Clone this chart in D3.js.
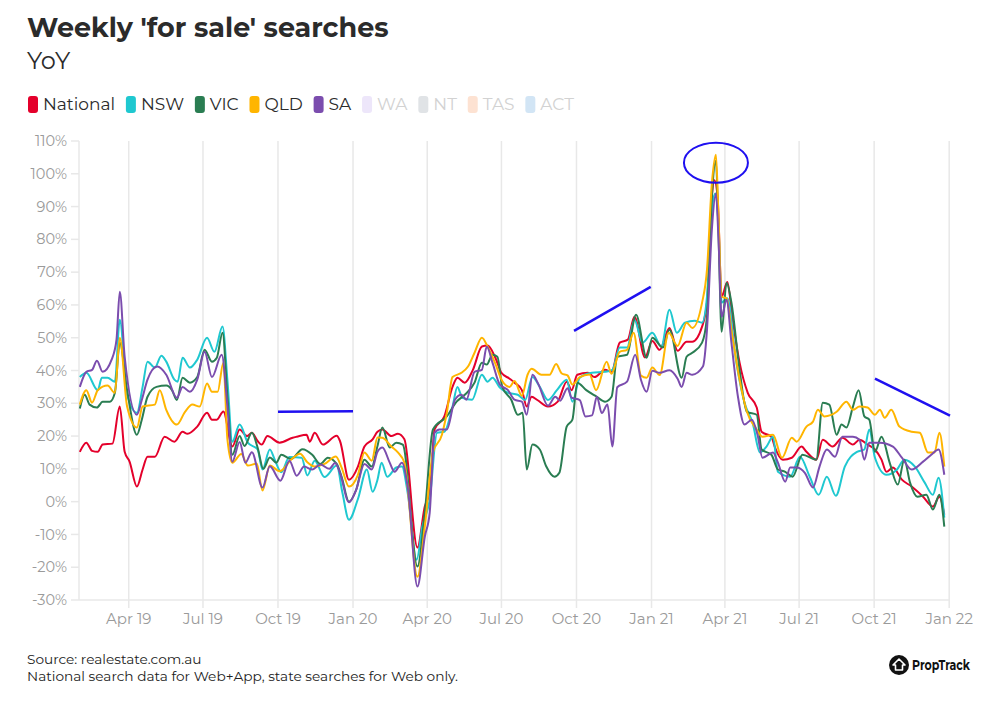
<!DOCTYPE html>
<html>
<head>
<meta charset="utf-8">
<script src="https://cdn.jsdelivr.net/npm/d3@7"></script>
<style>
    body { margin: 0; background: #fff; }
    svg text { font-family: Montserrat, Inter, "Noto Sans", sans-serif; }
</style>
</head>
<body>
<div id="chart"></div>
<script>
// Weekly 'for sale' searches, YoY % change
// Values, [week, % change]

const national = [
    ["2019-01-31",15.2],["2019-02-08",18],["2019-02-15",15.5],["2019-02-22",15.2],["2019-02-28",17.4],["2019-03-12",17.7],
    ["2019-03-21",29],["2019-03-27",15.2],["2019-04-02",12.2],["2019-04-11",4.6],["2019-04-18",9.8],["2019-04-24",13.7],
    ["2019-05-03",13.7],["2019-05-15",19.8],["2019-05-27",18.3],["2019-06-06",21.3],["2019-06-12",20.7],["2019-06-24",22.9],
    ["2019-07-06",27.1],["2019-07-12",25],["2019-07-18",25],["2019-07-26",27.5],["2019-08-06",16.8],["2019-08-15",22],
    ["2019-08-24",20],["2019-08-30",21],["2019-09-06",18.5],["2019-09-11",17.4],["2019-09-18",20],["2019-10-03",18],
    ["2019-10-19",19.5],["2019-10-24",19.8],["2019-11-05",20.4],["2019-11-09",18.3],["2019-11-15",21],["2019-11-25",17.4],
    ["2019-12-12",20.1],["2019-12-16",18.5],["2019-12-27",6.7],["2020-01-07",10.7],["2020-01-15",16.8],["2020-01-25",19],
    ["2020-01-31",21.3],["2020-02-06",22],["2020-02-17",20],["2020-02-25",20.7],["2020-03-04",19],["2020-03-20",-14],
    ["2020-03-29",-1.5],["2020-04-04",2.7],["2020-04-10",22],["2020-04-22",26],["2020-05-02",35],["2020-05-08",37.8],
    ["2020-05-17",36.3],["2020-05-27",40.2],["2020-06-07",47.3],["2020-06-14",47.6],["2020-06-23",44.2],["2020-07-01",39.3],
    ["2020-07-11",37.5],["2020-07-17",36.3],["2020-07-26",34],["2020-08-01",29],["2020-08-07",32],["2020-08-14",31],
    ["2020-08-27",29],["2020-09-08",30.5],["2020-09-19",36.6],["2020-09-25",34],["2020-10-02",38.7],["2020-10-15",39.3],
    ["2020-10-23",38],["2020-11-05",40.2],["2020-11-13",39.6],["2020-11-23",48.5],["2020-12-03",49.4],["2020-12-11",56.4],
    ["2020-12-24",44],["2021-01-02",49],["2021-01-11",46.3],["2021-01-23",53],["2021-02-02",46],["2021-02-13",48.8],
    ["2021-02-20",48.8],["2021-03-04",53.4],["2021-03-10",60.7],["2021-03-16",93],["2021-03-19",98],["2021-03-23",93],
    ["2021-03-28",62.5],["2021-04-04",67],["2021-04-10",56.4],["2021-04-19",42.4],["2021-04-29",33.2],["2021-05-10",28.7],
    ["2021-05-16",21.3],["2021-05-28",19.8],["2021-06-01",16.8],["2021-06-11",12.8],["2021-06-22",13.4],["2021-07-04",16.8],
    ["2021-07-10",15.2],["2021-07-22",12.8],["2021-07-30",18.9],["2021-08-11",16.8],["2021-08-23",19.5],["2021-09-05",17.4],
    ["2021-09-13",18.9],["2021-09-23",17.4],["2021-10-02",15.9],["2021-10-10",12.8],["2021-10-16",9.1],["2021-10-24",10.4],
    ["2021-11-04",6.7],["2021-11-16",4.6],["2021-11-30",1.5],["2021-12-12",-1.5],["2021-12-20",1.5],["2021-12-26",-4]
];

const nsw = [
    ["2019-01-31",38],["2019-02-08",39.3],["2019-02-22",34],["2019-02-27",37.8],["2019-03-06",37.8],["2019-03-15",36.6],
    ["2019-03-21",55.5],["2019-03-30",32.6],["2019-04-11",27.1],["2019-04-18",35],["2019-04-24",42.7],["2019-05-03",40.9],
    ["2019-05-11",44.5],["2019-05-17",42.7],["2019-05-27",37.2],["2019-05-31",36.6],["2019-06-06",43.9],["2019-06-15",40.9],
    ["2019-06-24",43.3],["2019-07-06",50],["2019-07-15",45.7],["2019-07-25",53.4],["2019-07-31",37],["2019-08-06",18.3],
    ["2019-08-15",23.5],["2019-08-25",18],["2019-09-06",15.9],["2019-09-12",9.8],["2019-09-21",15.9],["2019-09-27",12.8],
    ["2019-10-05",9],["2019-10-15",13.6],["2019-10-30",13.4],["2019-11-06",8],["2019-11-15",12.5],["2019-11-27",7.5],
    ["2019-12-12",11],["2019-12-19",2.7],["2019-12-27",-5.5],["2020-01-07",0.8],["2020-01-18",9.8],["2020-01-25",3],
    ["2020-01-31",6.7],["2020-02-05",11.9],["2020-02-12",7.6],["2020-02-23",10.4],["2020-03-01",10.7],["2020-03-08",2.7],
    ["2020-03-19",-17.7],["2020-03-26",-7.6],["2020-04-04",0.6],["2020-04-13",21],["2020-04-22",21.3],["2020-05-02",29],
    ["2020-05-08",35],["2020-05-14",31.7],["2020-05-26",31.1],["2020-06-07",38.7],["2020-06-14",36.6],["2020-06-20",37.8],
    ["2020-06-29",34.8],["2020-07-09",33.2],["2020-07-21",32.6],["2020-07-30",31],["2020-08-08",38],["2020-08-17",35],
    ["2020-08-27",31],["2020-09-07",34],["2020-09-19",37.2],["2020-09-26",30.5],["2020-10-05",37.8],["2020-10-20",39.3],
    ["2020-11-05",39.6],["2020-11-14",40.2],["2020-11-23",47],["2020-12-02",47],["2020-12-11",55.5],["2020-12-21",48.5],
    ["2021-01-02",51.5],["2021-01-13",47.3],["2021-01-23",58.5],["2021-02-01",51.5],["2021-02-11",54.6],["2021-02-23",55.2],
    ["2021-03-04",54.6],["2021-03-10",62.5],["2021-03-17",91],["2021-03-20",94],["2021-03-24",85],["2021-03-28",60.7],
    ["2021-04-04",62],["2021-04-15",42.4],["2021-04-25",30.2],["2021-05-05",24],["2021-05-14",15],["2021-05-22",16.8],
    ["2021-05-30",19.8],["2021-06-05",9.1],["2021-06-20",7.6],["2021-07-02",13.7],["2021-07-14",7.6],["2021-07-25",2.1],
    ["2021-08-04",7.6],["2021-08-15",1.8],["2021-08-26",10.7],["2021-09-10",15.2],["2021-09-19",15.9],["2021-09-25",22],
    ["2021-10-02",13.4],["2021-10-16",8.2],["2021-10-29",9.8],["2021-11-07",12.8],["2021-11-20",10.7],["2021-12-02",5.8],
    ["2021-12-12",2.1],["2021-12-19",7.3],["2021-12-26",-4.9]
];

const vic = [
    ["2019-01-31",28.4],["2019-02-06",32.6],["2019-02-12",29.6],["2019-02-21",28.7],["2019-02-28",30.5],["2019-03-09",30.5],
    ["2019-03-15",33.2],["2019-03-21",48.5],["2019-03-30",34],["2019-04-11",20.4],["2019-04-17",25],["2019-04-24",32],
    ["2019-05-05",35],["2019-05-17",35.4],["2019-05-24",34],["2019-05-30",31],["2019-06-06",37.8],["2019-06-15",36.3],
    ["2019-06-24",38],["2019-07-03",46.3],["2019-07-12",42.7],["2019-07-18",43.9],["2019-07-25",51.5],["2019-07-31",32],
    ["2019-08-06",14.3],["2019-08-15",20],["2019-08-21",17],["2019-08-30",21],["2019-09-06",16.5],["2019-09-13",10],
    ["2019-09-21",13.5],["2019-09-29",11.9],["2019-10-05",14.3],["2019-10-17",13],["2019-10-31",16],["2019-11-12",14.3],
    ["2019-11-22",11.5],["2019-12-01",13.4],["2019-12-12",11.5],["2019-12-18",7.6],["2019-12-27",0],["2020-01-05",3.7],
    ["2020-01-15",12.8],["2020-01-24",10.7],["2020-01-31",17],["2020-02-06",22.6],["2020-02-15",16.5],["2020-02-23",18],
    ["2020-03-02",17.4],["2020-03-20",-19.8],["2020-03-29",-3.4],["2020-04-08",22],["2020-04-25",26],["2020-05-07",30.5],
    ["2020-05-17",32.6],["2020-05-29",36.3],["2020-06-07",42.4],["2020-06-13",41.8],["2020-06-20",44.8],["2020-06-26",44.2],
    ["2020-07-02",35],["2020-07-13",31.1],["2020-07-21",26.5],["2020-07-27",27.1],["2020-08-01",9.8],["2020-08-08",17.4],
    ["2020-08-17",15.9],["2020-08-25",10.7],["2020-09-04",7.6],["2020-09-10",8.8],["2020-09-19",22.9],["2020-09-26",25],
    ["2020-10-02",36.3],["2020-10-13",34],["2020-10-26",32],["2020-11-05",30.5],["2020-11-13",32],["2020-11-20",44.2],
    ["2020-12-02",44.8],["2020-12-13",57],["2020-12-26",43.9],["2021-01-02",50],["2021-01-15",47],["2021-01-23",52.4],
    ["2021-02-07",37.8],["2021-02-13",44.2],["2021-02-20",45.4],["2021-03-04",48.5],["2021-03-10",56.4],["2021-03-16",93],
    ["2021-03-21",104],["2021-03-24",83],["2021-03-28",51.8],["2021-04-03",66.8],["2021-04-09",60.7],["2021-04-19",40.2],
    ["2021-04-28",27.4],["2021-05-10",26.5],["2021-05-16",15.9],["2021-05-28",14.3],["2021-06-05",9.8],["2021-06-14",9.1],
    ["2021-06-23",7.6],["2021-07-05",14.3],["2021-07-22",12.8],["2021-07-30",30.2],["2021-08-07",29.6],["2021-08-16",20.4],
    ["2021-08-22",23.5],["2021-08-28",22.6],["2021-09-05",29],["2021-09-12",34],["2021-09-19",26],["2021-09-25",25],
    ["2021-10-02",15.2],["2021-10-10",19.8],["2021-10-20",11.9],["2021-10-30",5.2],["2021-11-07",12.8],["2021-11-14",5.8],
    ["2021-11-23",1.5],["2021-12-04",2.1],["2021-12-12",-2.4],["2021-12-20",2.1],["2021-12-26",-7.6]
];

const qld = [
    ["2019-01-31",29.6],["2019-02-08",34],["2019-02-15",30.2],["2019-02-22",34],["2019-03-06",35.4],["2019-03-15",33.2],
    ["2019-03-21",50],["2019-03-30",29],["2019-04-11",22.6],["2019-04-18",29],["2019-05-03",29.6],["2019-05-09",34],
    ["2019-05-17",28],["2019-05-30",23.5],["2019-06-09",27.4],["2019-06-18",29.6],["2019-06-27",29],["2019-07-06",36],
    ["2019-07-12",33.5],["2019-07-19",33.5],["2019-07-26",42.4],["2019-07-31",19],["2019-08-06",11.9],["2019-08-17",14.5],
    ["2019-08-25",11],["2019-09-05",11.6],["2019-09-12",3.4],["2019-09-21",11],["2019-10-03",9.3],["2019-10-18",13],
    ["2019-10-28",14.6],["2019-11-06",12],["2019-11-15",10.7],["2019-11-27",11.5],["2019-12-11",13.8],["2019-12-18",10.4],
    ["2019-12-27",4.6],["2020-01-07",8.2],["2020-01-15",15],["2020-01-24",12.5],["2020-01-31",19.6],["2020-02-06",19.5],
    ["2020-02-17",16.8],["2020-02-25",15],["2020-03-04",11.9],["2020-03-20",-22.9],["2020-03-29",-7.6],["2020-04-08",15],
    ["2020-04-19",20.4],["2020-04-25",27.1],["2020-05-02",38],["2020-05-13",39.3],["2020-05-21",41.2],["2020-05-29",45.4],
    ["2020-06-07",50],["2020-06-14",47.3],["2020-06-23",42.4],["2020-07-02",36.8],["2020-07-11",35],["2020-07-17",36.8],
    ["2020-07-26",32.3],["2020-08-02",38.7],["2020-08-07",40.5],["2020-08-19",38.7],["2020-08-29",38.7],["2020-09-06",42],
    ["2020-09-13",39.1],["2020-09-20",38.5],["2020-09-26",35.7],["2020-10-05",38],["2020-10-17",38.8],["2020-10-25",34],
    ["2020-11-07",42.7],["2020-11-13",39],["2020-11-23",45.7],["2020-12-02",46.3],["2020-12-10",51.5],["2020-12-19",38.5],
    ["2020-12-26",37.8],["2021-01-02",40.9],["2021-01-11",38.6],["2021-01-22",51.5],["2021-02-02",47.5],["2021-02-13",54.6],
    ["2021-02-20",53],["2021-03-04",60.7],["2021-03-10",70.7],["2021-03-16",97],["2021-03-21",105.8],["2021-03-24",88],
    ["2021-03-28",62.5],["2021-04-03",62],["2021-04-09",52.4],["2021-04-19",37.2],["2021-04-28",27.4],["2021-05-10",22],
    ["2021-05-17",19.8],["2021-05-30",20.4],["2021-06-10",13.4],["2021-06-22",19.5],["2021-06-28",18.3],["2021-07-10",22.9],
    ["2021-07-18",24.4],["2021-07-24",28],["2021-08-01",26],["2021-08-16",27.4],["2021-08-28",30.5],["2021-09-05",28],
    ["2021-09-13",29],["2021-09-23",28.7],["2021-10-02",26.5],["2021-10-08",28],["2021-10-14",25.6],["2021-10-22",28],
    ["2021-11-01",22.9],["2021-11-16",21.3],["2021-11-26",21],["2021-12-06",15],["2021-12-14",15],["2021-12-20",21],
    ["2021-12-26",10.7]
];

const sa = [
    ["2019-01-31",35],["2019-02-08",39.6],["2019-02-15",40.2],["2019-02-21",43],["2019-02-28",39.6],["2019-03-11",43.3],
    ["2019-03-17",49.4],["2019-03-21",64],["2019-03-27",44.2],["2019-04-11",26.5],["2019-04-17",31],["2019-04-24",37.2],
    ["2019-05-06",41.2],["2019-05-17",38.7],["2019-05-30",31.7],["2019-06-06",35],["2019-06-15",33.5],["2019-06-24",37.2],
    ["2019-07-03",45.7],["2019-07-12",38],["2019-07-24",44.8],["2019-07-31",29],["2019-08-06",12.2],["2019-08-15",18.2],
    ["2019-08-22",11.9],["2019-08-30",15.1],["2019-09-12",4.3],["2019-09-21",10.8],["2019-10-04",6.4],["2019-10-15",12.5],
    ["2019-10-24",7.9],["2019-11-02",10.7],["2019-11-12",9.8],["2019-11-22",11.3],["2019-12-03",10],["2019-12-10",11.8],
    ["2019-12-16",8.8],["2019-12-27",-0.2],["2020-01-05",3.7],["2020-01-15",11.5],["2020-01-24",9.8],["2020-01-31",15.2],
    ["2020-02-06",16.5],["2020-02-15",11.9],["2020-02-21",9.1],["2020-03-01",11.9],["2020-03-08",4.6],["2020-03-20",-25.9],
    ["2020-03-29",-10.7],["2020-04-04",-3.4],["2020-04-10",21],["2020-04-16",22],["2020-04-25",22],["2020-05-05",31.1],
    ["2020-05-13",32.6],["2020-05-19",31.1],["2020-05-29",39.6],["2020-06-07",40.2],["2020-06-13",47.3],["2020-06-20",42.4],
    ["2020-06-29",35.7],["2020-07-09",34],["2020-07-17",31.1],["2020-07-26",30.5],["2020-08-01",26.5],["2020-08-08",38.7],
    ["2020-08-15",36],["2020-08-27",29.3],["2020-09-05",32],["2020-09-11",30.8],["2020-09-20",34.6],["2020-09-25",31.7],
    ["2020-10-05",31],["2020-10-12",26],["2020-10-20",26.3],["2020-10-26",32],["2020-11-01",27],["2020-11-08",29.6],
    ["2020-11-14",16.8],["2020-11-20",34.9],["2020-12-02",36.6],["2020-12-12",44.8],["2020-12-19",37.2],["2020-12-26",33.5],
    ["2021-01-02",39.9],["2021-01-11",39.3],["2021-01-23",40.1],["2021-02-02",37.5],["2021-02-07",35],["2021-02-13",39.3],
    ["2021-02-20",38.7],["2021-03-05",41.2],["2021-03-10",52.4],["2021-03-16",83],["2021-03-21",94],["2021-03-24",81],
    ["2021-03-28",56.4],["2021-04-03",61.6],["2021-04-09",48.5],["2021-04-17",32],["2021-04-25",23.5],["2021-05-04",25],
    ["2021-05-11",20.4],["2021-05-17",13.4],["2021-05-30",15],["2021-06-05",11.9],["2021-06-14",6.1],["2021-06-20",10.4],
    ["2021-06-28",10.4],["2021-07-08",8.8],["2021-07-18",4.3],["2021-07-26",10.7],["2021-08-04",15.9],["2021-08-14",13.7],
    ["2021-08-23",19.8],["2021-09-05",19.8],["2021-09-13",18.9],["2021-09-19",12.8],["2021-09-25",18],["2021-10-08",18],
    ["2021-10-24",16.8],["2021-11-04",13.4],["2021-11-16",9.8],["2021-11-30",12.2],["2021-12-10",14.3],["2021-12-19",15.9],
    ["2021-12-26",8.2]
];

// Legend entries (hidden states shown faded)
const legendNames = ["National", "NSW", "VIC", "QLD", "SA", "WA", "NT", "TAS", "ACT"];
const legendActive = [true, true, true, true, true, false, false, false, false];

// Axis ticks
const xTickDates = ["2019-04-01","2019-07-01","2019-10-01","2020-01-01","2020-04-01","2020-07-01",
                    "2020-10-01","2021-01-01","2021-04-01","2021-07-01","2021-10-01","2022-01-01"];
const yTickValues = [-30,-20,-10,0,10,20,30,40,50,60,70,80,90,100,110];

// Hand-drawn blue annotations: trend strokes and a ring round the peak
const annoLines = [
    [["2019-10-01",27.4],["2020-01-01",27.6]],
    [["2020-09-28",52.1],["2020-12-31",65.5]],
    [["2021-10-02",37.5],["2022-01-02",26.2]]
];
const annoRing = ["2021-03-21",103.4];

window.onload = () => {
    const width = 1000, height = 714;
    const left = 79, right = 950, top = 141, bottom = 600;

    const colors = {
        National: "#e4002b", NSW: "#1fc8d0", VIC: "#2a7d52", QLD: "#ffb500", SA: "#7b4dae",
        WA: "#ede6fa", NT: "#e0e3e6", TAS: "#fde2d2", ACT: "#d2e5f5"
    };
    const seriesData = { National: national, NSW: nsw, VIC: vic, QLD: qld, SA: sa };

    const parse = d3.timeParse("%Y-%m-%d");

    const svg = d3.select("#chart")
        .append("svg")
        .attr("width", width)
        .attr("height", height);

    const x = d3.scaleTime()
        .domain([parse("2019-01-30"), parse("2022-01-02")])
        .range([left, right]);

    const y = d3.scaleLinear()
        .domain([-30, 110])
        .range([bottom, top]);

    // Title
    svg.append("text")
        .attr("x", 27).attr("y", 37)
        .attr("font-size", 27).attr("font-weight", 700)
        .attr("fill", "#2b2b2b")
        .text("Weekly 'for sale' searches");

    svg.append("text")
        .attr("x", 27).attr("y", 69)
        .attr("font-size", 24)
        .attr("fill", "#2b2b2b")
        .text("YoY");

    // Legend
    let lx = 28;
    legendNames.forEach((name, i) => {
        const g = svg.append("g");
        g.append("rect")
            .attr("x", lx).attr("y", 96)
            .attr("width", 10).attr("height", 17)
            .attr("rx", 3)
            .attr("fill", colors[name]);
        const t = g.append("text")
            .attr("x", lx + 15).attr("y", 110)
            .attr("font-size", 17)
            .attr("fill", legendActive[i] ? "#2b2b2b" : "#d2d2d2")
            .text(name);
        lx += 15 + t.node().getComputedTextLength() + 10.8;
    });

    // Vertical grid lines
    svg.append("g")
        .selectAll("line")
        .data(xTickDates)
        .enter()
        .append("line")
        .attr("x1", d => x(parse(d))).attr("x2", d => x(parse(d)))
        .attr("y1", top).attr("y2", bottom + 8)
        .attr("stroke", "#e8e8e8")
        .attr("stroke-width", 1.5);

    // Y axis line + ticks + labels
    svg.append("line")
        .attr("x1", left).attr("x2", left)
        .attr("y1", top).attr("y2", bottom)
        .attr("stroke", "#e8e8e8").attr("stroke-width", 1.5);

    svg.append("line")
        .attr("x1", left).attr("x2", right)
        .attr("y1", bottom).attr("y2", bottom)
        .attr("stroke", "#e8e8e8").attr("stroke-width", 1.5);

    const yTicks = svg.append("g");
    yTicks.selectAll("line")
        .data(yTickValues)
        .enter()
        .append("line")
        .attr("x1", left - 8).attr("x2", left)
        .attr("y1", d => y(d)).attr("y2", d => y(d))
        .attr("stroke", "#e8e8e8").attr("stroke-width", 1.5);
    yTicks.selectAll("text")
        .data(yTickValues)
        .enter()
        .append("text")
        .attr("x", left - 12)
        .attr("y", d => y(d))
        .attr("dy", "0.35em")
        .attr("text-anchor", "end")
        .attr("font-size", 14.5)
        .attr("fill", "#9a9a9a")
        .text(d => d + "%");

    // X labels
    const fmt = d3.timeFormat("%b %y");
    svg.append("g")
        .selectAll("text")
        .data(xTickDates)
        .enter()
        .append("text")
        .attr("x", d => x(parse(d)))
        .attr("y", 624)
        .attr("text-anchor", "middle")
        .attr("font-size", 15)
        .attr("fill", "#9a9a9a")
        .text(d => fmt(parse(d)));

    // Lines
    const line = d3.line()
        .x(d => x(parse(d[0])))
        .y(d => y(d[1]))
        .curve(d3.curveMonotoneX);

    Object.keys(seriesData).forEach(name => {
        svg.append("path")
            .datum(seriesData[name])
            .attr("fill", "none")
            .attr("stroke", colors[name])
            .attr("stroke-width", 2)
            .attr("stroke-linejoin", "round")
            .attr("d", line);
    });

    // Blue annotations
    annoLines.forEach(seg => {
        svg.append("line")
            .attr("x1", x(parse(seg[0][0]))).attr("y1", y(seg[0][1]))
            .attr("x2", x(parse(seg[1][0]))).attr("y2", y(seg[1][1]))
            .attr("stroke", "#1f10f0")
            .attr("stroke-width", 2.5);
    });
    svg.append("ellipse")
        .attr("cx", x(parse(annoRing[0])))
        .attr("cy", y(annoRing[1]))
        .attr("rx", 32).attr("ry", 20)
        .attr("fill", "none")
        .attr("stroke", "#1f10f0")
        .attr("stroke-width", 2);

    // Footer
    svg.append("text")
        .attr("x", 27).attr("y", 664)
        .attr("font-size", 13.7).attr("fill", "#222")
        .text("Source: realestate.com.au");
    svg.append("text")
        .attr("x", 27).attr("y", 681)
        .attr("font-size", 13.7).attr("fill", "#222")
        .text("National search data for Web+App, state searches for Web only.");

    // PropTrack logo
    const logo = svg.append("g").attr("transform", "translate(899,665)");
    logo.append("circle").attr("r", 10).attr("fill", "#111");
    logo.append("path")
        .attr("d", "M0,-6 L6,0 L3.5,0 L3.5,5 L-3.5,5 L-3.5,0 L-6,0 Z")
        .attr("fill", "none").attr("stroke", "#fff").attr("stroke-width", 1.6)
        .attr("stroke-linejoin", "round");
    logo.append("text")
        .attr("x", 13).attr("y", 5)
        .attr("font-size", 14).attr("font-weight", 700)
        .attr("fill", "#111")
        .attr("textLength", 58)
        .attr("lengthAdjust", "spacingAndGlyphs")
        .text("PropTrack");
};
</script>
</body>
</html>
